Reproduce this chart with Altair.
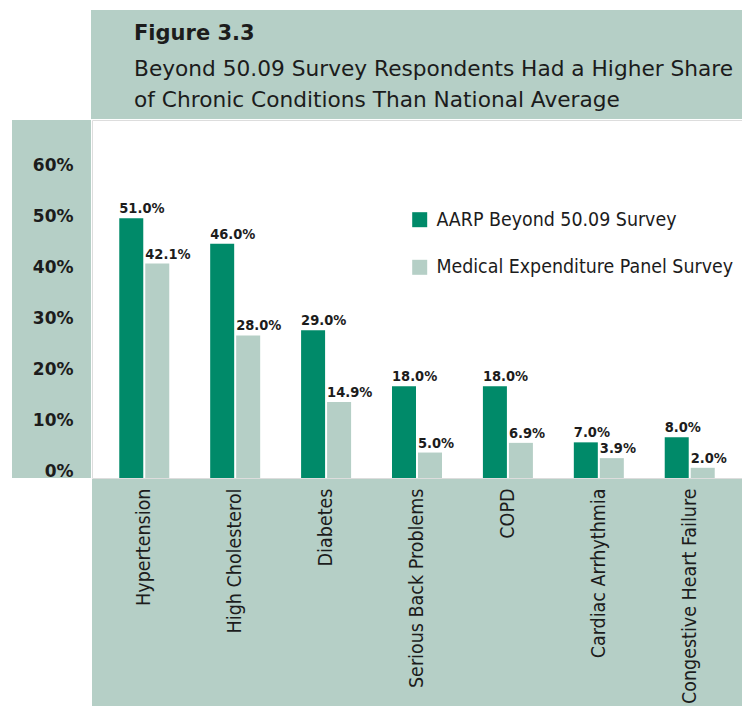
import altair as alt
import pandas as pd

conditions = ["Hypertension", "High Cholesterol", "Diabetes", "Serious Back Problems",
              "COPD", "Cardiac Arrhythmia", "Congestive Heart Failure"]
series_names = ["AARP Beyond 50.09 Survey", "Medical Expenditure Panel Survey"]
aarp = [51.0, 46.0, 29.0, 18.0, 18.0, 7.0, 8.0]
meps = [42.1, 28.0, 14.9, 5.0, 6.9, 3.9, 2.0]
y_ticks = [0, 10, 20, 30, 40, 50, 60]

DARK = "#008a69"
LIGHT = "#b5cfc6"
BOX = "#b5cfc6"
BORDER = "#0b8f6e"
TXT = "#1c1c1c"
COND = "DejaVu Sans Condensed, DejaVu Sans"

rows = []
for i, c in enumerate(conditions):
    rows.append({"cond": c, "series": series_names[0], "value": aarp[i]})
    rows.append({"cond": c, "series": series_names[1], "value": meps[i]})
df = pd.DataFrame(rows)

W, H = 650, 358

x_enc = alt.X("cond:N", sort=conditions, title=None,
              scale=alt.Scale(paddingInner=0.45, paddingOuter=0.3),
              axis=alt.Axis(labelAngle=-90, labelAlign="right", labelBaseline="middle",
                            labelPadding=10, labelFontSize=19.5, labelFont=COND,
                            labelColor=TXT, labelLimit=500, ticks=False, domain=False,
                            zindex=1))
xo_enc = alt.XOffset("series:N", sort=series_names, scale=alt.Scale(paddingInner=0.077))
y_enc = alt.Y("value:Q", title=None,
              scale=alt.Scale(domain=[0, 70.3], nice=False),
              axis=alt.Axis(values=y_ticks, labelExpr="datum.value + '%'", grid=False,
                            ticks=False, domain=False, labelFontSize=17,
                            labelFontWeight="bold", labelFont="DejaVu Sans",
                            labelColor=TXT, labelPadding=19, labelBaseline="alphabetic",
                            labelOffset=-2, zindex=1))


def panel(x1, x2, y1, y2):
    return alt.Chart(alt.Data(values=[{"k": 1}])).mark_rect(fill=BOX).encode(
        x=alt.value(x1), x2=alt.value(x2), y=alt.value(y1), y2=alt.value(y2))


# sage-coloured frame panels around the white plot
boxes = [
    panel(-1, W, -110, -1),        # title panel
    panel(-80, -1, 0, H),          # y-axis panel
    panel(0, W, H + 1, H + 240),   # x-axis panel
]

base = alt.Chart(df)
bars = base.mark_bar().encode(
    x=x_enc, xOffset=xo_enc, y=y_enc,
    color=alt.Color("series:N", sort=series_names,
                    scale=alt.Scale(domain=series_names, range=[DARK, LIGHT]),
                    legend=alt.Legend(title=None, orient="none", legendX=318, legendY=90,
                                      symbolType="square", symbolSize=225,
                                      symbolStrokeWidth=0, labelFontSize=19.4,
                                      labelFont=COND, labelColor=TXT, labelLimit=500,
                                      rowPadding=26.6, labelOffset=7)),
)
labels = base.mark_text(align="left", baseline="alphabetic", dx=-12, dy=-5,
                        fontSize=14.5, fontWeight="bold", font=COND,
                        color=TXT).transform_calculate(
    label="format(datum.value, '.1f') + '%'"
).encode(x=alt.X("cond:N", sort=conditions), xOffset=alt.XOffset("series:N", sort=series_names),
         y="value:Q", text="label:N")

chart = alt.layer(*boxes, bars, labels).properties(
    width=W, height=H,
    title=alt.TitleParams(
        text="Figure 3.3",
        subtitle=["Beyond 50.09 Survey Respondents Had a Higher Share",
                  "of Chronic Conditions Than National Average"],
        anchor="start", frame="group", dx=42, offset=-102,
        font="DejaVu Sans", fontSize=21, fontWeight="bold", color=TXT,
        subtitleFont="DejaVu Sans", subtitleFontSize=21.7, subtitleColor=TXT,
        subtitleLineHeight=31.5, subtitlePadding=15, zindex=1, limit=1000),
    autosize=alt.AutoSizeParams(type="none"),
    padding={"left": 92, "top": 120, "right": 0, "bottom": 228},
).configure_view(stroke=BORDER, strokeWidth=1.5, fill="white").configure(background="white")

chart.save("out.html", embed_options={"renderer": "svg", "actions": False})
